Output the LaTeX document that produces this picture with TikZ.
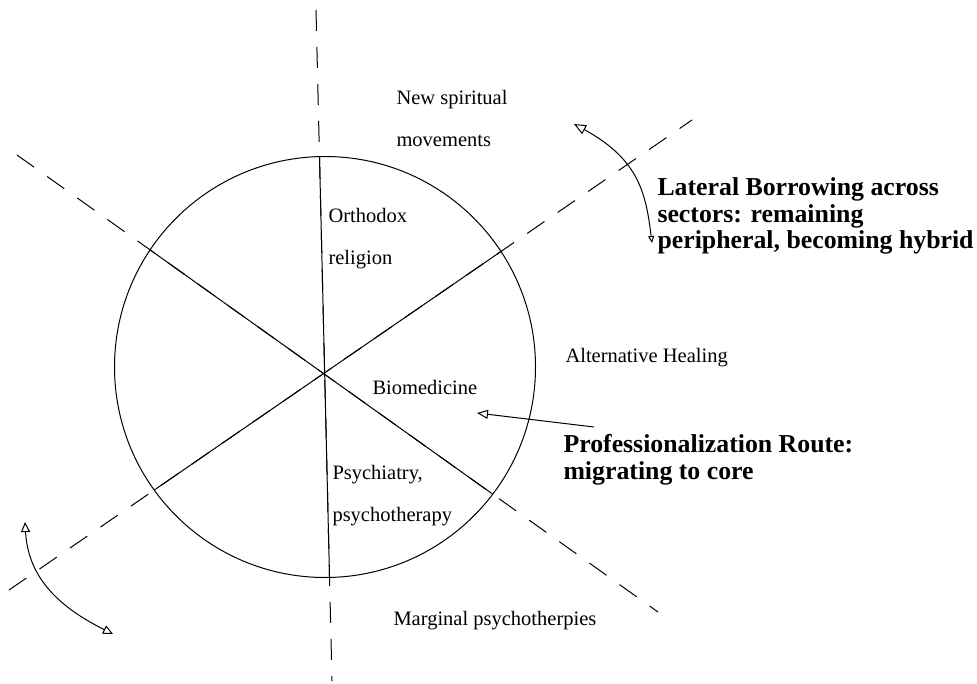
\documentclass[tikz,border=0pt]{standalone}
\usepackage{fontspec}
\setmainfont{Liberation Serif}
\usetikzlibrary{arrows.meta}

\begin{document}
\begin{tikzpicture}[x=1pt,y=-1pt,line width=1pt,
	axis/.style={dash pattern=on 21pt off 16pt},
	sector/.style={font=\fontsize{20.5}{42}\selectfont,align=left,inner sep=0pt},
	route/.style={font=\fontsize{25.8}{26.5}\selectfont\bfseries,align=left,inner sep=0pt},
	move/.style={-{Triangle[open,length=11pt,width=9pt]}}]
	\useasboundingbox (0,0) rectangle (977,683);
	
	\node[circle,draw,minimum size=421pt,inner sep=0pt] (C) at (325,367) {};
	
	% ends of the three axes
	\coordinate (n) at (316,10);
	\coordinate (s) at (332,681);
	\coordinate (nw) at (17,155);
	\coordinate (se) at (658,612);
	\coordinate (sw) at (9,590);
	\coordinate (ne) at (692,120);
	\draw[axis] (n) -- (s);
	\draw[axis] (nw) -- (se);
	\draw[axis] (sw) -- (ne);
	\begin{scope}
		\clip (C.center) circle (210.5pt);
		\draw (n) -- (s);
		\draw (nw) -- (se);
		\draw (sw) -- (ne);
	\end{scope}
	
	\node[sector,anchor=west] (A) at (396,118) {New spiritual\\movements};
	\node[sector,anchor=west] (B) at (328,239) {Orthodox\\religion};
	\node[sector,anchor=base west] (D) at (372,394) {Biomedicine};
	\node[sector,anchor=base west] (E) at (565,362) {Alternative Healing};
	\node[sector,anchor=west] (F) at (332,496) {Psychiatry,\\psychotherapy};
	\node[sector,anchor=base west] (G) at (393,625) {Marginal psychotherpies};
	
	\node[route,anchor=west] (L) at (657,216) {Lateral Borrowing across\\sectors: remaining\\peripheral, becoming hybrid};
	\node[route,anchor=west] (P) at (563,460) {Professionalization Route:\\migrating to core};
	
	\coordinate (lb1) at (574,124);
	\coordinate (lb2) at (652,243);
	\coordinate (ll1) at (25,522);
	\coordinate (ll2) at (113,634);
	\coordinate (pr1) at (594,427);
	\coordinate (pr2) at (477,413);
	\draw[{Triangle[open,length=12pt,width=10pt]}-{Triangle[open,length=7pt,width=6pt]}]
	(lb1) .. controls (640,160) and (646,195) .. (lb2);
	\draw[{Triangle[open,length=10pt,width=9pt]}-{Triangle[open,length=10pt,width=9pt]}]
	(ll1) .. controls (28,575) and (55,605) .. (ll2);
	\draw[move] (pr1) -- (pr2);
\end{tikzpicture}
\end{document}
